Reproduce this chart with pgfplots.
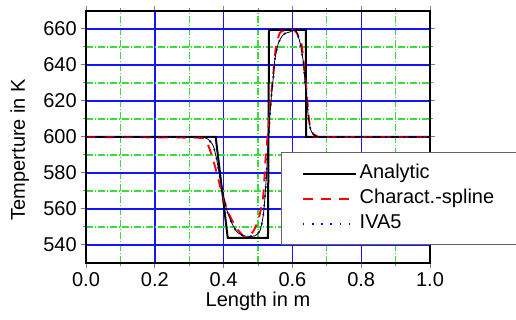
\documentclass[border=0pt]{standalone}
\usepackage{fontspec}
\setmainfont{Liberation Sans}
\usepackage{pgfplots}
\pgfplotsset{compat=1.18}
\definecolor{gridblue}{RGB}{20,20,255}
\definecolor{gridgreen}{RGB}{60,220,60}
\definecolor{legframe}{RGB}{100,100,100}
\begin{document}
\fontsize{15}{18}\selectfont
\begin{tikzpicture}
\begin{axis}[
 at={(0,0)}, anchor=south west,
 scale only axis, width=258pt, height=189pt,
 xmin=0, xmax=1, ymin=530, ymax=670,
 xtick={0,0.2,0.4,0.6,0.8,1},
 ytick={540,560,580,600,620,640,660},
 minor x tick num=1, minor y tick num=1,
 xmajorgrids=true, ymajorgrids=true, xminorgrids=true, yminorgrids=true,
 every axis grid/.style={},
 major grid style={draw=gridblue, line width=1.05pt, solid},
 minor grid style={draw=gridgreen, line width=1pt, dash pattern=on 5pt off 1.5pt on 1pt off 1.5pt},
 tick align=outside,
 major tick length=3.75pt, minor tick length=2.5pt,
 major tick style={line width=0.75pt},
 minor tick style={line width=0.75pt},
 axis line style={line width=0.9pt},
 /pgf/number format/assume math mode=true,
 tick label style={inner sep=3pt, font=\fontsize{15}{18}\selectfont},
 x tick label style={/pgf/number format/fixed, /pgf/number format/fixed zerofill, /pgf/number format/precision=1},
 y tick label style={/pgf/number format/fixed, /pgf/number format/precision=0},
 xlabel={Length in m}, ylabel={Temperture in K},
 label style={font=\fontsize{15}{18}\selectfont},
 xlabel style={at={(axis description cs:0.5,-0.153)}, anchor=center},
 ylabel style={at={(axis description cs:-0.193,0.45)}, anchor=center},
 legend style={at={(axis description cs:0.567,0.4405)}, anchor=north west,
   draw=legframe, line width=1pt, fill=white, inner xsep=15pt, inner ysep=7pt,
   row sep=1.25pt, nodes={inner sep=2pt, text height=10.5pt, text depth=3pt},
   cells={anchor=west}, font=\fontsize{15}{18}\selectfont},
 legend image code/.code={\draw[#1] (0pt,0pt) -- (40pt,0pt);},
]
\addplot[black, line width=1.5pt, line join=miter] coordinates {
 (0,600) (0.377,600) (0.412,544) (0.529,544) (0.532,659.5) (0.639,659.5) (0.640,600) (1,600)};
\addplot[red, line width=1.4pt, dash pattern=on 7.5pt off 6pt, smooth, tension=0.4] coordinates {
 (0,600) (0.317,599.6) (0.346,598.6) (0.360,593) (0.375,583.7) (0.390,572.6) (0.404,563.3)
 (0.419,555.8) (0.438,549.3) (0.457,545.1) (0.465,544.8) (0.472,545.1) (0.486,547.5)
 (0.501,554) (0.515,567) (0.522,588) (0.530,605) (0.537,621) (0.543,632) (0.549,645)
 (0.554,652) (0.564,658) (0.575,659) (0.590,659) (0.605,659.5) (0.615,657) (0.627,651)
 (0.636,635) (0.641,626) (0.646,614) (0.651,606) (0.661,601.5) (0.671,600.5) (0.69,600) (1,600)};
\addplot[blue, line width=1.3pt, dash pattern=on 1.3pt off 5.6pt, smooth, tension=0.4] coordinates {
 (0,600) (0.33,600) (0.345,599.6) (0.356,598.6) (0.370,595) (0.380,587.5) (0.394,572.6)
 (0.409,559.6) (0.424,552.1) (0.438,547.5) (0.457,545.1) (0.475,544.8) (0.491,545.1)
 (0.506,548) (0.515,556) (0.520,566) (0.525,580) (0.530,598) (0.535,613) (0.540,625)
 (0.545,634) (0.549,643) (0.559,652) (0.574,657) (0.593,658.4) (0.606,659.5) (0.612,658.5)
 (0.622,652.5) (0.632,641.4) (0.637,630) (0.642,621) (0.646,611.6) (0.653,604.2)
 (0.661,601.4) (0.671,600.4) (0.69,600) (1,600)};
\addplot[black, line width=0.6pt, smooth, tension=0.4, forget plot] coordinates {
 (0,600) (0.33,600) (0.345,599.6) (0.356,598.6) (0.370,595) (0.380,587.5) (0.394,572.6)
 (0.409,559.6) (0.424,552.1) (0.438,547.5) (0.457,545.1) (0.475,544.8) (0.491,545.1)
 (0.506,548) (0.515,556) (0.520,566) (0.525,580) (0.530,598) (0.535,613) (0.540,625)
 (0.545,634) (0.549,643) (0.559,652) (0.574,657) (0.593,658.4) (0.606,659.5) (0.612,658.5)
 (0.622,652.5) (0.632,641.4) (0.637,630) (0.642,621) (0.646,611.6) (0.653,604.2)
 (0.661,601.4) (0.671,600.4) (0.69,600) (1,600)};
\legend{Analytic, Charact.-spline, IVA5}
\end{axis}
\pgfresetboundingbox
\path[use as bounding box] (-64.5pt,-42.75pt) rectangle (322.5pt,197.25pt);
\end{tikzpicture}
\end{document}
